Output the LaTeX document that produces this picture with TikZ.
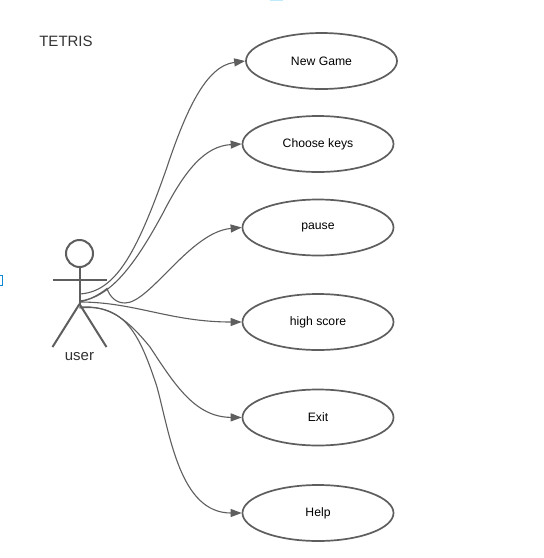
\documentclass[tikz,border=0pt]{standalone}
\usepackage{fontspec}
\setmainfont{Liberation Sans}
\usetikzlibrary{arrows.meta,shapes.geometric}
\definecolor{lin}{HTML}{5E5E5E}
\definecolor{tx}{HTML}{333333}
\tikzset{
 uc/.style={draw=lin,line width=1.7pt,ellipse,minimum width=151pt,minimum height=56pt,inner sep=0pt,font=\fontsize{12.2}{14}\selectfont,text=black},
 link/.style={draw=lin,line width=1.1pt,-{Triangle[length=11pt,width=8pt]}},
 limb/.style={draw=lin,line width=2pt},
 lbl/.style={text=tx,inner sep=0pt,font=\fontsize{15}{17}\selectfont}
}
\begin{document}
\begin{tikzpicture}[x=1pt,y=-1pt]
\useasboundingbox (0,0) rectangle (544,558);
\fill[white] (0,0) rectangle (544,558);
\fill[cyan!25] (270,0) rectangle (283,1.2);
\draw[cyan!70!blue,line width=1pt] (-1,275) -- (2.5,275) -- (2.5,285) -- (-1,285);
\node[lbl] (title) at (66,41.2) {TETRIS};
\node[uc] (a) at (321.5,61) {New Game};
\node[uc] (b) at (318,144) {Choose keys};
\node[uc] (c) at (318,227.5) {pause};
\node[uc] (d) at (318,322) {high score};
\node[uc] (e) at (318,417.5) {Exit};
\node[uc] (f) at (318,513) {Help};
\node[draw=lin,line width=2pt,circle,minimum size=27pt,inner sep=0pt] (head) at (79.5,253.5) {};
\coordinate (hip) at (79.5,304);
\coordinate (s1) at (79.5,294);
\coordinate (s2) at (79.5,301);
\coordinate (s3) at (79.5,302);
\coordinate (s4) at (79.5,307);
\coordinate (s5) at (79.5,308);
\draw[limb] (head.south) -- (hip);
\draw[limb] (52.5,280.2) -- (106.5,280.2);
\draw[limb] (hip) -- (52.5,347);
\draw[limb] (hip) -- (106.5,347);
\node[lbl] (actor) at (79.5,356.5) {user};
\draw[link] (s1) .. controls (115,292) and (136,255) .. (166,170) .. controls (186,110) and (206,66) .. (a.west);
\draw[link] (s2) .. controls (110,298) and (135,265) .. (163,213) .. controls (185,170) and (205,146) .. (b.west);
\draw[link] (s3) .. controls (90,300) and (100,294) .. (107,288.5) .. controls (110,297) and (116,303) .. (125,303) .. controls (150,303) and (190,232) .. (c.west);
\draw[link] (s3) .. controls (135,302) and (170,322) .. (d.west);
\draw[link] (s4) .. controls (110,305) and (128,320) .. (150,347) .. controls (175,385) and (195,417) .. (e.west);
\draw[link] (s5) .. controls (125,303) and (140,335) .. (157,387) .. controls (170,435) and (180,513) .. (f.west);
\end{tikzpicture}
\end{document}
